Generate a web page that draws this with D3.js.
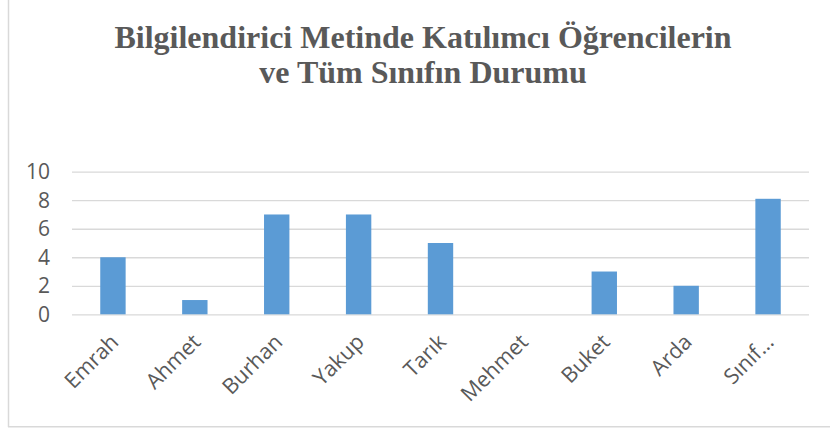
<!DOCTYPE html>
<html>
<head>
<meta charset="utf-8">
<script src="https://d3js.org/d3.v7.min.js"></script>
<style>
  body { margin: 0; background: #fff; }
  svg { display: block; }
</style>
</head>
<body>
<svg id="chart" width="830" height="432"></svg>
<script>

var names = ["Emrah", "Ahmet", "Burhan", "Yakup", "Tarık", "Mehmet", "Buket", "Arda", "Sınıf…"];
var values = [4, 1, 7, 7, 5, 0, 3, 2, 8.1];
var yTicks = [0, 2, 4, 6, 8, 10];
var titleLines = ["Bilgilendirici Metinde Katılımcı Öğrencilerin", "ve Tüm Sınıfın Durumu"];

var svg = d3.select("#chart");
var margin = {left: 72, right: 21, top: 171.7, bottom: 117.7};
var width  = +svg.attr("width");
var height = +svg.attr("height");

// chart frame (only left and bottom edges are visible in the crop)
svg.append("line")
    .attr("x1", 8.5).attr("x2", 8.5).attr("y1", 0).attr("y2", 427)
    .attr("stroke", "#d9d9d9").attr("stroke-width", 1.5);
svg.append("line")
    .attr("x1", 8).attr("x2", width).attr("y1", 426.8).attr("y2", 426.8)
    .attr("stroke", "#d9d9d9").attr("stroke-width", 1.5);

// title
svg.append("g").selectAll("text")
    .data(titleLines)
    .join("text")
        .attr("x", 423)
        .attr("y", function(d, i){ return 48.3 + i*35; })
        .attr("text-anchor", "middle")
        .attr("font-family", "'Liberation Serif', 'Times New Roman', serif")
        .attr("font-weight", "bold")
        .attr("font-size", "32px")
        .attr("fill", "#595959")
        .text(function(d){ return d; });

var x = d3.scaleBand()
    .domain(names)
    .range([margin.left, width - margin.right])
    .paddingInner(0.69)
    .paddingOuter(0.345);

var y = d3.scaleLinear()
    .domain([0, 10])
    .range([height - margin.bottom, margin.top]);

// gridlines
svg.append("g")
    .attr("transform", "translate(" + margin.left + ",0)")
    .call(d3.axisLeft(y).tickValues(yTicks).tickSize(-(width - margin.left - margin.right)).tickFormat(""))
    .call(function(g){ g.select(".domain").remove(); })
    .selectAll("line")
        .attr("stroke", "#d9d9d9")
        .attr("stroke-width", 1.3);

// bars
svg.append("g").selectAll("rect")
    .data(values)
    .join("rect")
        .attr("x", function(d, i){ return x(names[i]); })
        .attr("y", function(d){ return y(d); })
        .attr("width", x.bandwidth())
        .attr("height", function(d){ return y(0) - y(d); })
        .attr("fill", "#5b9bd5");

// y tick labels
svg.append("g").selectAll("text")
    .data(yTicks)
    .join("text")
        .attr("x", 50)
        .attr("y", function(d){ return y(d); })
        .attr("dy", "0.36em")
        .attr("text-anchor", "end")
        .attr("font-family", "'Open Sans', sans-serif")
        .attr("font-size", "21px")
        .attr("fill", "#595959")
        .text(function(d){ return d; });

// x labels, rotated
svg.append("g").selectAll("text")
    .data(names)
    .join("text")
        .attr("transform", function(d){
            return "translate(" + (x(d) + x.bandwidth()/2 + 7) + "," + (y(0) + 29) + ") rotate(-45)";
        })
        .attr("text-anchor", "end")
        .attr("font-family", "'Open Sans', sans-serif")
        .attr("font-size", "21.5px")
        .attr("fill", "#595959")
        .text(function(d){ return d; });

</script>
</body>
</html>
